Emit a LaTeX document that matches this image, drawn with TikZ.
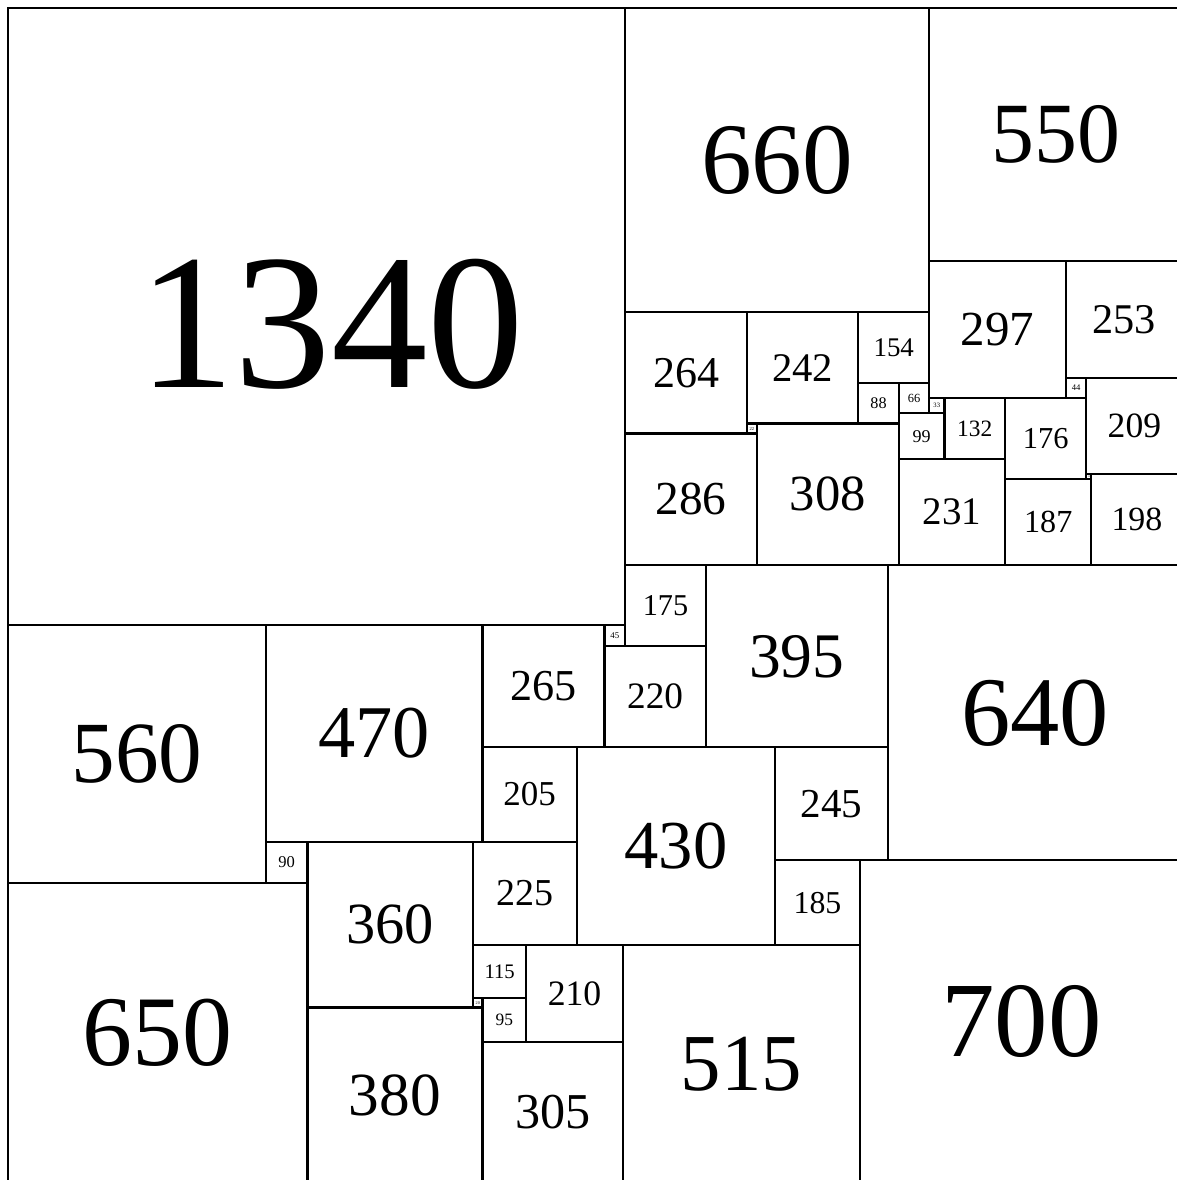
\documentclass[tikz,border=0pt]{standalone}
\usepackage{fontspec}
\setmainfont{Liberation Serif}
\usepackage{tikz}
\usetikzlibrary{positioning,calc}
\tikzset{
    tile/.style={draw=black, line width=1.4pt},
    tilelabel/.style={inner sep=0pt, scale={0.017*pow(#1,0.91)}}
}

\begin{document}
\begin{tikzpicture}[x=0.01cm, y=-0.01cm]
    \useasboundingbox (-17.4,-17.4) rectangle (2536,2544.5);
    \draw[tile] (0,0) rectangle ++(1340,1340);
    \node[tilelabel=1340] (t1340) at (702,686) {1340};
    \foreach \x/\y/\s in {1340/0/660, 2000/0/550, 2000/550/297, 2297/550/253,
        2297/803/44, 2341/803/209, 1340/660/264, 1604/660/242, 1846/660/154,
        1846/814/88, 1934/814/66, 2000/847/33, 1934/880/99, 2033/847/132,
        2165/847/176, 1604/902/22, 1340/924/286, 1626/902/308, 1934/979/231,
        2341/1012/11, 2165/1023/187, 2352/1012/198, 1340/1210/175, 1515/1210/395,
        1910/1210/640, 0/1340/560, 560/1340/470, 1030/1340/265, 1295/1340/45,
        1295/1385/220, 1030/1605/205, 1235/1605/430, 1665/1605/245, 560/1810/90,
        650/1810/360, 1010/1810/225, 1665/1850/185, 1850/1850/700, 0/1900/650,
        1010/2035/115, 1125/2035/210, 1335/2035/515, 1010/2150/20, 1030/2150/95,
        650/2170/380, 1030/2245/305} {
        \draw[tile] (\x,\y) rectangle ++(\s,\s);
        \node[tilelabel=\s] (t\s) at ($(\x,\y)+(0.5*\s,0.5*\s)$) {\s};
    }
\end{tikzpicture}
\end{document}
